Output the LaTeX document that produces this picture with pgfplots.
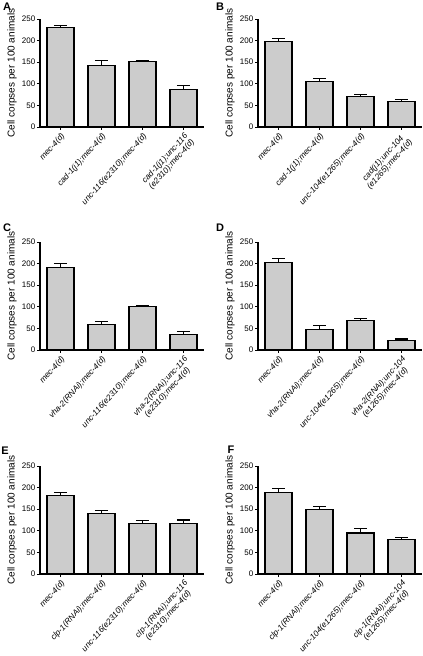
\documentclass[border=0pt]{standalone}
\usepackage{fontspec}
\setmainfont{Liberation Sans}
\usepackage{pgfplots}
\pgfplotsset{compat=1.18}
\definecolor{barfill}{RGB}{204,204,204}
\pgfplotsset{
 panel/.style={
  width=164pt, height=108pt, scale only axis,
  anchor=south west,
  ybar, bar width=27pt,
  xmin=-0.5, xmax=3.5, ymin=0, ymax=250,
  axis lines*=left,
  axis line style={line width=1.1pt},
  tick style={line width=0.9pt, black},
  tick align=outside, major tick length=3pt,
  xtick={0,1,2,3}, ytick={0,50,100,150,200,250},
  /pgf/number format/assume math mode=true,
  yticklabel style={font=\fontsize{8}{9}\selectfont, inner sep=1.5pt},
  xticklabel style={font=\fontsize{8.2}{9}\selectfont\itshape, rotate=48, anchor=north east, align=center, inner sep=1.5pt},
  ylabel={Cell corpses per 100 animals},
  ylabel style={font=\fontsize{8.2}{9}\selectfont},
  every axis y label/.style={at={(axis description cs:-0.17,0.5)}, rotate=90, anchor=center},
  clip=false,
 },
 bars/.style={fill=barfill, draw=black, line width=1.1pt,
   error bars/.cd, y dir=plus, y explicit, error mark=|,
   error bar style={line width=1.1pt, black},
   error mark options={line width=1.1pt, mark size=6.5pt, black}}
}
\begin{document}
\begin{tikzpicture}
\useasboundingbox (0,0) rectangle (423pt,656pt);
% A
\begin{axis}[panel, at={(40pt,529pt)},
  xticklabels={{mec-4(d)},{cad-1(j1);mec-4(d)},{unc-116(e2310);mec-4(d)},{cad-1(j1);unc-116\\(e2310);mec-4(d)}}]
\addplot[bars] coordinates {(0,231) +- (0,3) (1,143) +- (0,10) (2,152) +- (0,1.5) (3,87) +- (0,9)};
\end{axis}
% B
\begin{axis}[panel, at={(258pt,529pt)},
  xticklabels={{mec-4(d)},{cad-1(j1);mec-4(d)},{unc-104(e1265);mec-4(d)},{cad(j1);unc-104\\(e1265);mec-4(d)}}]
\addplot[bars] coordinates {(0,198) +- (0,6) (1,106) +- (0,6) (2,71) +- (0,5) (3,58) +- (0,5)};
\end{axis}
% C
\begin{axis}[panel, at={(40pt,306pt)},
  xticklabels={{mec-4(d)},{vha-2(RNAi);mec-4(d)},{unc-116(e2310);mec-4(d)},{vha-2(RNAi);unc-116\\(e2310);mec-4(d)}}]
\addplot[bars] coordinates {(0,191) +- (0,9) (1,58) +- (0,9) (2,100) +- (0,2) (3,36.5) +- (0,7)};
\end{axis}
% D
\begin{axis}[panel, at={(258pt,306pt)},
  xticklabels={{mec-4(d)},{vha-2(RNAi);mec-4(d)},{unc-104(e1265);mec-4(d)},{vha-2(RNAi);unc-104\\(e1265);mec-4(d)}}]
\addplot[bars] coordinates {(0,202) +- (0,10) (1,47) +- (0,9) (2,69) +- (0,3) (3,23) +- (0,2.5)};
\end{axis}
% E
\begin{axis}[panel, at={(40pt,82pt)},
  xticklabels={{mec-4(d)},{clp-1(RNAi);mec-4(d)},{unc-116(e2310);mec-4(d)},{clp-1(RNAi);unc-116\\(e2310);mec-4(d)}}]
\addplot[bars] coordinates {(0,181.5) +- (0,8) (1,139.5) +- (0,6.5) (2,116.5) +- (0,6.5) (3,117.5) +- (0,7.5)};
\end{axis}
% F
\begin{axis}[panel, at={(258pt,82pt)},
  xticklabels={{mec-4(d)},{clp-1(RNAi);mec-4(d)},{unc-104(e1265);mec-4(d)},{clp-1(RNAi);unc-104\\(e1265);mec-4(d)}}]
\addplot[bars] coordinates {(0,189) +- (0,9) (1,149) +- (0,7) (2,95) +- (0,11) (3,80) +- (0,4)};
\end{axis}
\begin{scope}[every node/.style={font=\fontsize{11}{12}\selectfont\bfseries}]
\node at (7pt,649pt) {A};
\node at (220pt,649pt) {B};
\node at (7pt,428pt) {C};
\node at (220pt,428pt) {D};
\node at (5pt,205pt) {E};
\node at (231pt,206pt) {F};
\end{scope}
\end{tikzpicture}
\end{document}
